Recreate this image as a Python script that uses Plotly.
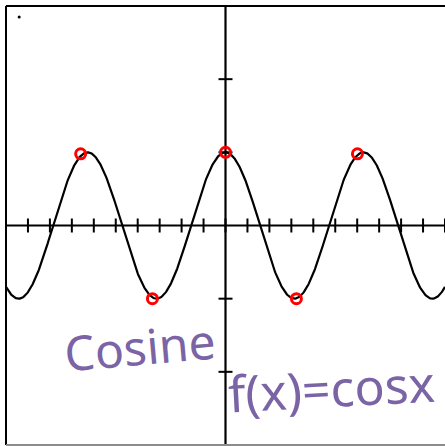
import numpy as np
import plotly.graph_objects as go

# Graph window
x_range = [-10, 10]
y_range = [-3, 3]

# Curve f(x) = cos x
curve_x = np.linspace(-10, 10, 801)
curve_y = np.cos(curve_x)

# Marked extrema (circled points)
peak_x = [-6.6, -3.33, 0.0, 3.23, 6.01]
peak_y = [0.98, -1.0, 1.0, -1.0, 0.98]

# Tick positions on the axes
x_ticks = list(range(-10, 11))
y_ticks = [-3, -2, -1, 1, 2, 3]

title_text = "Cosine"
formula_text = "f(x)=cosx"

ink = "#7B64A6"

fig = go.Figure()

# central axes
fig.add_trace(go.Scatter(x=x_range, y=[0, 0], mode="lines",
                         line=dict(color="black", width=2.2), hoverinfo="skip"))
fig.add_trace(go.Scatter(x=[0, 0], y=y_range, mode="lines",
                         line=dict(color="black", width=2.2), hoverinfo="skip"))

# tick marks crossing the axes
fig.add_trace(go.Scatter(x=x_ticks, y=[0] * len(x_ticks), mode="markers",
                         marker=dict(symbol="line-ns", size=10, color="black",
                                     line=dict(color="black", width=2)),
                         hoverinfo="skip"))
fig.add_trace(go.Scatter(x=[0] * len(y_ticks), y=y_ticks, mode="markers",
                         marker=dict(symbol="line-ew", size=10, color="black",
                                     line=dict(color="black", width=2)),
                         hoverinfo="skip"))

# the cosine curve
fig.add_trace(go.Scatter(x=curve_x, y=curve_y, mode="lines",
                         line=dict(color="black", width=2.2), hoverinfo="skip"))

# circled extrema
fig.add_trace(go.Scatter(x=peak_x, y=peak_y, mode="markers",
                         marker=dict(symbol="circle-open", size=10, color="#FF0000",
                                     line=dict(color="#FF0000", width=3)),
                         hoverinfo="skip"))

# small stray dot in the corner
fig.add_trace(go.Scatter(x=[-9.4], y=[2.85], mode="markers",
                         marker=dict(symbol="circle", size=3, color="black"),
                         hoverinfo="skip"))

# frame: left and top black, bottom grey
fig.add_shape(type="line", xref="paper", yref="paper", x0=0, x1=0, y0=0, y1=1,
              line=dict(color="black", width=2))
fig.add_shape(type="line", xref="paper", yref="paper", x0=0, x1=1, y0=1, y1=1,
              line=dict(color="black", width=2))
fig.add_shape(type="line", xref="paper", yref="paper", x0=0, x1=1, y0=0, y1=0,
              line=dict(color="#8c8c8c", width=2))

# handwritten labels
fig.add_annotation(x=-3.9, y=-1.65, text=title_text, showarrow=False,
                   textangle=-5, font=dict(family="Noto Sans", size=48, color=ink))
fig.add_annotation(x=4.85, y=-2.22, text=formula_text, showarrow=False,
                   textangle=-3, font=dict(family="Noto Sans", size=50, color=ink))

fig.update_xaxes(range=x_range, visible=False, fixedrange=True)
fig.update_yaxes(range=y_range, visible=False, fixedrange=True)
fig.update_layout(width=445, height=446,
                  margin=dict(l=6, r=0, t=6, b=1),
                  plot_bgcolor="white", paper_bgcolor="white",
                  showlegend=False)

fig.write_html("out.html")
